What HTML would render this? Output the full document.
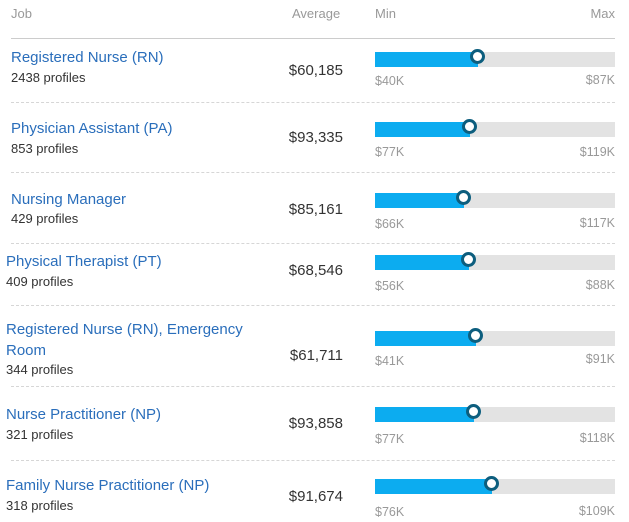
<!DOCTYPE html>
<html><head><style>
body{margin:0;width:629px;height:522px;background:#fff;font-family:"Liberation Sans",sans-serif;position:relative;overflow:hidden}
div{position:absolute;white-space:nowrap}
.h{color:#999;font-size:13px;top:6px}
.t{color:#2a6ebb;font-size:15px}
.p{color:#333;font-size:13px}
.a{color:#333;font-size:15px;right:286px}
.bar{left:375px;width:240px;height:15px;background:#e3e3e3}
.fill{left:0;top:0;height:15px;background:#0cacf0}
.dot{width:9px;height:9px;border:3px solid #0d5e7e;border-radius:50%;background:#fff;top:-3px}
.mn{left:375px;color:#999;font-size:12.5px}
.mx{right:14px;color:#999;font-size:12.5px}
.d{left:11px;width:604px;border-top:1px dashed #d6d6d6;height:0}
</style></head><body>
<div class="h" style="left:11px">Job</div>
<div class="h" style="left:292px">Average</div>
<div class="h" style="left:375px">Min</div>
<div class="h" style="right:14px">Max</div>
<div style="left:11px;top:38px;width:604px;height:1px;background:#ccc"></div>

<div class="t" style="left:11px;top:49px">Registered Nurse (RN)</div>
<div class="p" style="left:11px;top:70px">2438 profiles</div>
<div class="a" style="top:62px">$60,185</div>
<div class="bar" style="top:52px"><div class="fill" style="width:103px"></div><div class="dot" style="left:95px"></div></div>
<div class="mn" style="top:74px">$40K</div><div class="mx" style="top:73px">$87K</div>
<div class="d" style="top:102px"></div>

<div class="t" style="left:11px;top:120px">Physician Assistant (PA)</div>
<div class="p" style="left:11px;top:141px">853 profiles</div>
<div class="a" style="top:129px">$93,335</div>
<div class="bar" style="top:122px"><div class="fill" style="width:95px"></div><div class="dot" style="left:87px"></div></div>
<div class="mn" style="top:145px">$77K</div><div class="mx" style="top:145px">$119K</div>
<div class="d" style="top:172px"></div>

<div class="t" style="left:11px;top:191px">Nursing Manager</div>
<div class="p" style="left:11px;top:211px">429 profiles</div>
<div class="a" style="top:201px">$85,161</div>
<div class="bar" style="top:193px"><div class="fill" style="width:89px"></div><div class="dot" style="left:81px"></div></div>
<div class="mn" style="top:217px">$66K</div><div class="mx" style="top:216px">$117K</div>
<div class="d" style="top:243px"></div>

<div class="t" style="left:6px;top:253px">Physical Therapist (PT)</div>
<div class="p" style="left:6px;top:274px">409 profiles</div>
<div class="a" style="top:262px">$68,546</div>
<div class="bar" style="top:255px"><div class="fill" style="width:94px"></div><div class="dot" style="left:86px"></div></div>
<div class="mn" style="top:279px">$56K</div><div class="mx" style="top:278px">$88K</div>
<div class="d" style="top:305px"></div>

<div class="t" style="left:6px;top:319px;line-height:21px">Registered Nurse (RN), Emergency<br>Room</div>
<div class="p" style="left:6px;top:362px">344 profiles</div>
<div class="a" style="top:347px">$61,711</div>
<div class="bar" style="top:331px"><div class="fill" style="width:101px"></div><div class="dot" style="left:93px"></div></div>
<div class="mn" style="top:354px">$41K</div><div class="mx" style="top:352px">$91K</div>
<div class="d" style="top:386px"></div>

<div class="t" style="left:6px;top:406px">Nurse Practitioner (NP)</div>
<div class="p" style="left:6px;top:427px">321 profiles</div>
<div class="a" style="top:415px">$93,858</div>
<div class="bar" style="top:407px"><div class="fill" style="width:99px"></div><div class="dot" style="left:91px"></div></div>
<div class="mn" style="top:432px">$77K</div><div class="mx" style="top:431px">$118K</div>
<div class="d" style="top:460px"></div>

<div class="t" style="left:6px;top:477px">Family Nurse Practitioner (NP)</div>
<div class="p" style="left:6px;top:498px">318 profiles</div>
<div class="a" style="top:488px">$91,674</div>
<div class="bar" style="top:479px"><div class="fill" style="width:117px"></div><div class="dot" style="left:109px"></div></div>
<div class="mn" style="top:505px">$76K</div><div class="mx" style="top:504px">$109K</div>
</body></html>
